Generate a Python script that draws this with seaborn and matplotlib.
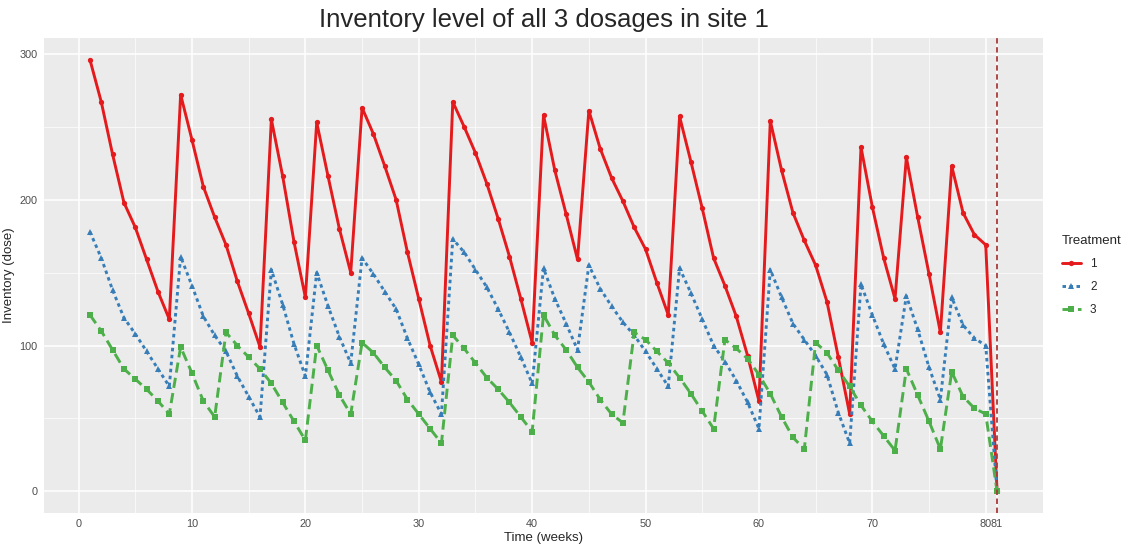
import numpy as np
import pandas as pd
import matplotlib
matplotlib.use("Agg")
import matplotlib.pyplot as plt
import seaborn as sns

weeks = list(range(1, 82))
treatment_1 = [296, 267, 231, 198, 181, 159, 137, 118,
               272, 241, 209, 188, 169, 144, 122, 99,
               255, 216, 171, 133,
               253, 216, 180, 150,
               263, 245, 223, 200, 164, 132, 100, 75,
               267, 250, 232, 211, 187, 161, 132, 102,
               258, 220, 190, 159,
               261, 235, 215, 199, 181, 166, 143, 121,
               257, 226, 194, 160, 141, 120, 93, 62,
               254, 220, 191, 172, 155, 130, 92, 53,
               236, 195, 160, 132,
               229, 188, 149, 109,
               223, 191, 176, 169,
               0]
treatment_2 = [178, 160, 138, 119, 108, 96, 84, 72,
               161, 141, 120, 107, 96, 79, 65, 51,
               152, 128, 101, 79,
               150, 127, 106, 88,
               160, 149, 137, 125, 105, 87, 68, 53,
               173, 164, 152, 140, 125, 109, 92, 74,
               153, 132, 115, 97,
               155, 139, 127, 116, 107, 96, 84, 72,
               153, 136, 118, 100, 89, 76, 61, 43,
               152, 133, 115, 104, 93, 80, 54, 33,
               142, 121, 101, 84,
               134, 111, 85, 63,
               133, 114, 105, 100,
               0]
treatment_3 = [121, 110, 97, 84, 77, 70, 62, 53,
               99, 81, 62, 51,
               109, 100, 92, 84, 74, 61, 48, 35,
               100, 83, 66, 53,
               102, 95, 85, 76, 63, 53, 43, 33,
               107, 98, 88, 78, 70, 61, 51, 41,
               121, 107, 97, 85, 75, 63, 53, 47,
               109, 104, 96, 88, 78, 67, 55, 43,
               104, 98, 91, 80, 67, 51, 37, 29,
               102, 95, 83, 72, 59, 48, 38, 28,
               84, 66, 48, 29,
               82, 65, 57, 53,
               0]
treatments = ["1", "2", "3"]
x_ticks = [0, 10, 20, 30, 40, 50, 60, 70, 80, 81]
y_ticks = [0, 100, 200, 300]
end_week = 81

df = pd.DataFrame({
    "week": weeks * 3,
    "inventory": treatment_1 + treatment_2 + treatment_3,
    "Treatment": ["1"] * 81 + ["2"] * 81 + ["3"] * 81,
})

sns.set_theme(style="darkgrid", rc={
    "axes.facecolor": "#EBEBEB",
    "grid.color": "white",
    "axes.edgecolor": "#EBEBEB",
})
plt.rcParams["font.family"] = ["Liberation Sans", "DejaVu Sans"]

fig = plt.figure(figsize=(11.32, 5.45), dpi=100)
ax = fig.add_axes([44 / 1132, 1 - 513 / 545, (1043 - 44) / 1132, (513 - 38) / 545])

palette = {"1": "#E41A1C", "2": "#377EB8", "3": "#4DAF4A"}
sns.lineplot(data=df, x="week", y="inventory", hue="Treatment", style="Treatment",
             hue_order=treatments, style_order=treatments,
             palette=palette, markers={"1": "o", "2": "^", "3": "s"},
             dashes={"1": "", "2": (1.2, 1.2), "3": (3.5, 1.8)},
             linewidth=2.1, markersize=3.8, markeredgewidth=0, ax=ax)

ax.axvline(end_week, color="#A83A3A", linestyle=(0, (3, 2)), linewidth=1.3)

ax.set_xlim(-3.05, 85.05)
ax.set_ylim(-14.8, 310.8)
ax.set_xticks(x_ticks)
ax.set_xticklabels([str(t) for t in x_ticks])
ax.set_yticks(y_ticks)
ax.set_xticks([5, 15, 25, 35, 45, 55, 65, 75], minor=True)
ax.set_yticks([50, 150, 250], minor=True)
ax.grid(which="major", color="white", linewidth=1.1)
ax.grid(which="minor", color="white", linewidth=0.5)
ax.tick_params(axis="both", which="major", labelsize=7.8, colors="#4D4D4D",
               length=3, width=0.8, pad=1.5, direction="out")
ax.tick_params(axis="both", which="minor", length=0)
for lbl in ax.get_xticklabels() + ax.get_yticklabels():
    lbl.set_color("#4D4D4D")
ax.set_xlabel("Time (weeks)", fontsize=9.5, labelpad=2)
ax.set_ylabel("Inventory (dose)", fontsize=9.5, labelpad=3)
ax.set_title("Inventory level of all 3 dosages in site 1", fontsize=18.5, pad=8)
for s in ax.spines.values():
    s.set_visible(False)

handles, labels = ax.get_legend_handles_labels()
leg = ax.legend(handles, labels, title="Treatment", loc="center left",
                bbox_to_anchor=(1.008, 0.5), frameon=False, fontsize=8.5,
                title_fontsize=9.5, handlelength=1.6, labelspacing=0.95)
leg._legend_box.align = "left"

fig.savefig("out.png", dpi=100, facecolor="white")
